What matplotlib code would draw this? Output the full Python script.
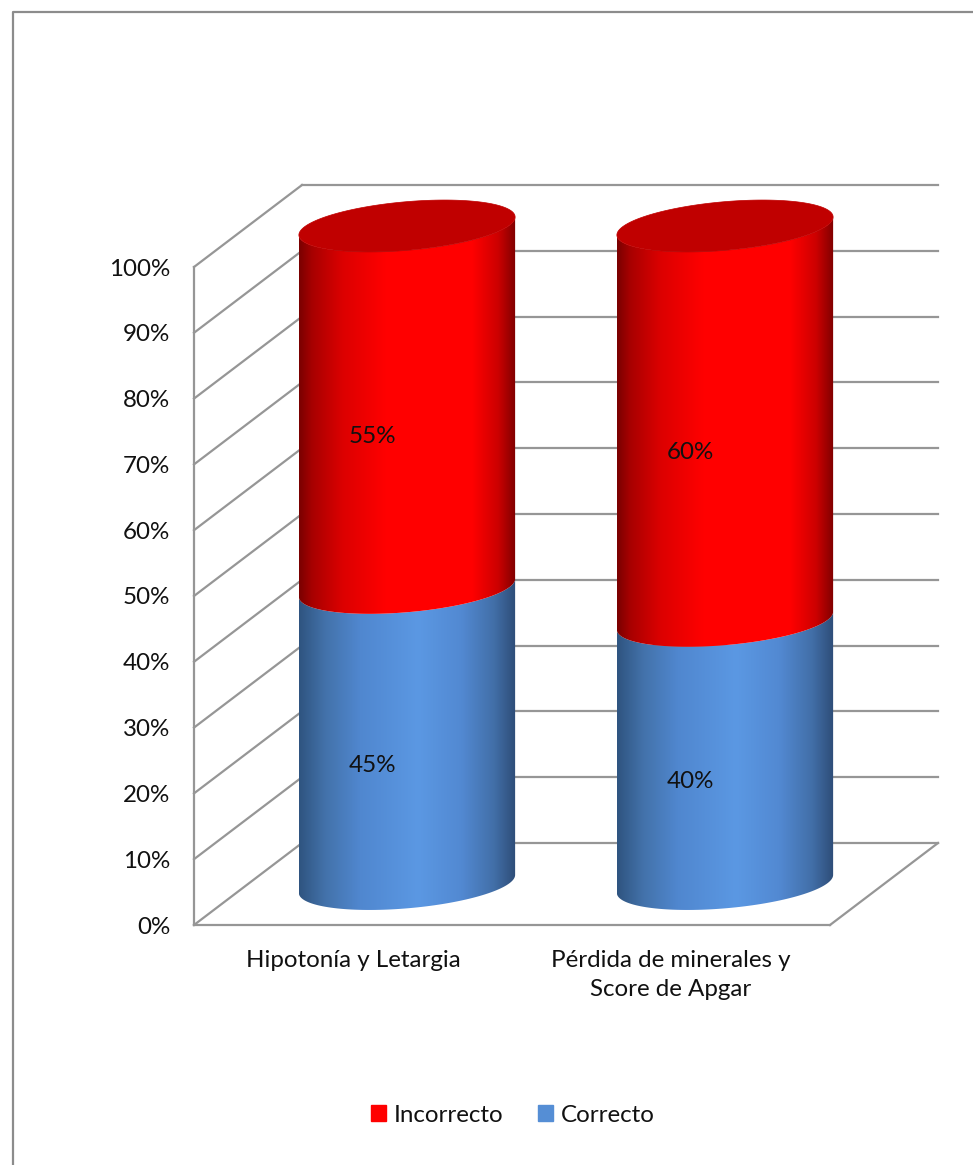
import matplotlib
matplotlib.use("Agg")
import matplotlib.pyplot as plt
import numpy as np
from matplotlib.colors import LinearSegmentedColormap
from matplotlib.lines import Line2D
from matplotlib.patches import Patch, Polygon

plt.rcParams['font.family'] = ['Lato', 'DejaVu Sans']

# Chart values
categories = ["Hipotonía y Letargia", "Pérdida de minerales y\nScore de Apgar"]
correcto = [45, 40]
incorrecto = [55, 60]
y_ticks = [0, 10, 20, 30, 40, 50, 60, 70, 80, 90, 100]
y_tick_labels = ["0%", "10%", "20%", "30%", "40%", "50%", "60%", "70%", "80%", "90%", "100%"]

W, H = 973, 1165
GRID_COLOR = '#969696'
LW = 1.6
FONT = 17.4

# Oblique depth of the fake 3D box, in data units
DEPTH_X = 108 / 636 * 2
DEPTH_Y = 82 / 658 * 100

# Cylinder shape, in data units
RADIUS = 0.34
ELL_B = 3.7
ELL_SHEAR = 1.37

red_cmap = LinearSegmentedColormap.from_list('red3d', [
    (0.0, '#7a0000'), (0.06, '#a80000'), (0.2, '#dc0000'), (0.4, '#ff0000'),
    (0.8, '#ff0000'), (0.92, '#cc0000'), (1.0, '#800000')])
blue_cmap = LinearSegmentedColormap.from_list('blue3d', [
    (0.0, '#2f5480'), (0.12, '#4372aa'), (0.28, '#5087cf'), (0.55, '#5b98e3'),
    (0.75, '#5289d2'), (0.9, '#426fa8'), (1.0, '#2e4d78')])
gradient = np.linspace(0, 1, 256).reshape(1, -1)

fig = plt.figure(figsize=(W / 100, H / 100), dpi=100)
ax = fig.add_axes([194 / W, 1 - 925 / H, 636 / W, 658 / H])
ax.set_xlim(0, 2)
ax.set_ylim(0, 100)

for side in ['top', 'right']:
    ax.spines[side].set_visible(False)
for side in ['left', 'bottom']:
    ax.spines[side].set_color(GRID_COLOR)
    ax.spines[side].set_linewidth(LW)

ax.set_yticks(y_ticks)
ax.set_yticklabels(y_tick_labels, fontsize=FONT, color='#111111')
ax.set_xticks([0.5, 1.5])
ax.set_xticklabels(categories, fontsize=FONT, color='#111111', linespacing=1.5)
ax.tick_params(axis='y', length=0, pad=17)
ax.tick_params(axis='x', length=0, pad=18)

# Side wall and back wall gridlines
for t in y_ticks:
    ax.plot([0, DEPTH_X], [t, t + DEPTH_Y], color=GRID_COLOR, lw=LW, clip_on=False, zorder=1)
    ax.plot([DEPTH_X, 2 + DEPTH_X], [t + DEPTH_Y, t + DEPTH_Y], color=GRID_COLOR, lw=LW,
            clip_on=False, zorder=1)
ax.plot([2, 2 + DEPTH_X], [0, DEPTH_Y], color=GRID_COLOR, lw=LW, clip_on=False, zorder=1)


def ell_x(cx, t):
    return cx + RADIUS * np.cos(t)


def ell_y(cy, t):
    return cy + ELL_SHEAR * np.cos(t) + ELL_B * np.sin(t)


def draw_segment(cx, v0, v1, cmap):
    # one stacked section of a cylinder: gradient image clipped to the body outline
    t = np.linspace(np.pi, 2 * np.pi, 80)
    xs = np.concatenate([ell_x(cx, t), ell_x(cx, t[::-1])])
    ys = np.concatenate([ell_y(v0 + DEPTH_Y / 2, t), ell_y(v1 + DEPTH_Y / 2, t[::-1])])
    body = Polygon(np.column_stack([xs, ys]), closed=True, transform=ax.transData)
    im = ax.imshow(gradient, cmap=cmap, aspect='auto', zorder=3, interpolation='bilinear',
                   extent=[cx - RADIUS, cx + RADIUS, v0, v1 + DEPTH_Y])
    im.set_clip_box(fig.bbox)
    im.set_clip_path(body)


for i in range(len(categories)):
    cx = i + 0.5 + DEPTH_X / 2
    draw_segment(cx, 0, correcto[i], blue_cmap)
    draw_segment(cx, correcto[i], correcto[i] + incorrecto[i], red_cmap)

    # top face
    t = np.linspace(0, 2 * np.pi, 160)
    top = correcto[i] + incorrecto[i] + DEPTH_Y / 2
    ax.fill(ell_x(cx, t), ell_y(top, t), color='#c00000', lw=0.5, zorder=4, clip_on=False)

    # value labels sit a little behind the front plane
    lx = i + 0.5 + DEPTH_X * 0.176
    ax.text(lx, correcto[i] / 2 + DEPTH_Y * 0.145, f"{correcto[i]}%", fontsize=FONT,
            color='#111111', ha='center', va='center', zorder=5)
    ax.text(lx, correcto[i] + incorrecto[i] / 2 + DEPTH_Y * 0.145, f"{incorrecto[i]}%", fontsize=FONT,
            color='#111111', ha='center', va='center', zorder=5)

ax.set_xlim(0, 2)
ax.set_ylim(0, 100)

handles = [Patch(color='#ff0000', label='Incorrecto'), Patch(color='#558ed5', label='Correcto')]
fig.legend(handles=handles, loc='center', bbox_to_anchor=(513 / W, 1 - 1115 / H), ncol=2,
           frameon=False, fontsize=FONT, labelcolor='#111111', handlelength=0.62, handleheight=0.62,
           handletextpad=0.33, columnspacing=1.42)

# Chart frame, only the top and left edges show
fig.add_artist(Line2D([12.5 / W, 12.5 / W, 1], [0, 1 - 11.5 / H, 1 - 11.5 / H], color='#8c8c8c', lw=1.6))

fig.savefig('out.png', dpi=100)
